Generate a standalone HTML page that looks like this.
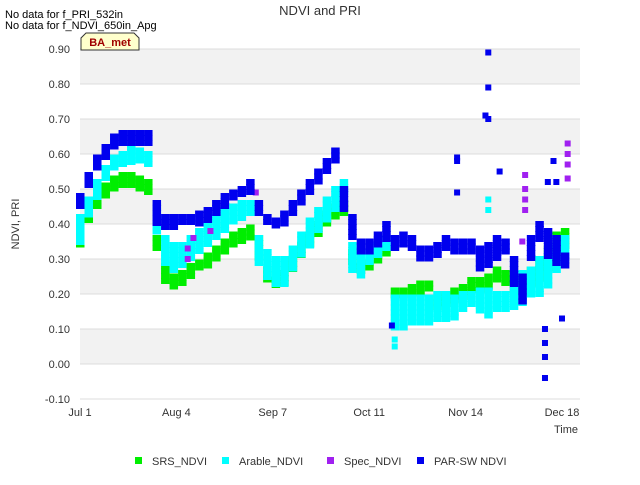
<!DOCTYPE html>
<html><head><meta charset="utf-8"><style>
body{margin:0;background:#fff;font-family:"Liberation Sans",sans-serif;}
svg text{font-family:"Liberation Sans",sans-serif;}
</style></head><body>
<svg id="chart" width="640" height="480" xmlns="http://www.w3.org/2000/svg">
<text x="320" y="15" text-anchor="middle" font-size="13" fill="#333">NDVI and PRI</text>
<text x="5" y="18" font-size="11" fill="#000">No data for f_PRI_532in</text>
<text x="5" y="29" font-size="11" fill="#000">No data for f_NDVI_650in_Apg</text>
<g id="plot"></g>
<g>
<path d="M81,50 L81,38 L86,33 L134,33 L139,38 L139,50 Z" fill="#ffffcc" stroke="#333" stroke-width="1"/>
<text x="110" y="46" text-anchor="middle" font-size="11" font-weight="bold" fill="#a00000">BA_met</text>
</g>
<text transform="translate(19,224) rotate(-90)" text-anchor="middle" font-size="11" fill="#333">NDVI, PRI</text>
<text x="578" y="433" text-anchor="end" font-size="11" fill="#333">Time</text>
<g id="legend"></g>
</svg>
<script>
const yTicks=[-0.1,0,0.1,0.2,0.3,0.4,0.5,0.6,0.7,0.8,0.9];
const xTickDays=[0,34,68,102,136,170];
const xTickLabels=["Jul 1","Aug 4","Sep 7","Oct 11","Nov 14","Dec 18"];
const days=[0,3,6,9,12,15,18,21,24,27,30,33,36,39,42,45,48,51,54,57,60,63,66,69,72,75,78,81,84,87,90,93,96,99,102,105,108,111,114,117,120,123,126,129,132,135,138,141,144,147,150,153,156,159,162,165,168,171];
const srsLo=[.33,.40,.44,.47,.50,.51,.51,.50,.49,.32,.23,.22,.23,.25,.27,.28,.30,.32,.34,.35,.36,.30,.23,.22,.23,.27,.31,.34,.37,.40,.42,.43,.28,.26,.27,.29,.31,.19,.19,.20,.20,.21,.16,.17,.18,.19,.21,.21,.22,.24,.23,.21,.20,.22,.24,.27,.30,.33];
const srsHi=[.37,.44,.48,.51,.53,.54,.54,.53,.52,.36,.28,.25,.26,.28,.29,.31,.33,.35,.37,.38,.39,.36,.27,.24,.26,.30,.34,.37,.40,.43,.45,.46,.32,.28,.29,.31,.33,.21,.21,.22,.23,.23,.19,.20,.21,.22,.24,.24,.25,.27,.26,.24,.25,.27,.30,.33,.37,.38];
const araLo=[.34,.42,.47,.52,.55,.57,.57,.57,.57,.38,.28,.26,.28,.30,.32,.34,.36,.38,.40,.41,.42,.28,.25,.23,.23,.27,.31,.34,.38,.41,.44,.48,.27,.25,.28,.30,.32,.10,.10,.11,.12,.12,.12,.12,.13,.15,.16,.15,.14,.15,.15,.16,.17,.19,.20,.22,.26,.30];
const araHi=[.42,.47,.52,.56,.59,.60,.62,.61,.60,.45,.36,.34,.34,.36,.38,.40,.42,.44,.45,.46,.46,.36,.32,.30,.30,.33,.37,.41,.44,.47,.50,.52,.34,.31,.32,.34,.36,.19,.19,.19,.19,.19,.20,.20,.19,.20,.20,.21,.21,.20,.20,.22,.26,.27,.30,.31,.34,.36];
const parLo=[.45,.50,.55,.59,.62,.63,.63,.62,.62,.40,.39,.39,.40,.40,.40,.41,.43,.45,.47,.48,.49,.42,.40,.39,.40,.42,.46,.49,.52,.55,.57,.44,.36,.32,.32,.33,.35,.32,.33,.32,.30,.29,.31,.33,.32,.32,.31,.27,.28,.30,.31,.22,.18,.30,.35,.30,.28,.27];
const parHi=[.48,.54,.59,.62,.65,.66,.66,.66,.66,.46,.42,.42,.42,.42,.43,.44,.46,.48,.49,.50,.52,.46,.42,.41,.43,.46,.49,.52,.55,.58,.61,.50,.42,.35,.35,.37,.40,.36,.37,.36,.33,.33,.34,.36,.35,.35,.35,.33,.34,.36,.35,.30,.25,.36,.40,.38,.36,.31];
const araOutDay=[144,144,111,111];
const araOutVal=[.47,.44,.07,.05];
const specDay=[38,38,40,46,62,63,157,157,157,157,156,172,172,172,172];
const specVal=[.30,.33,.36,.38,.49,.44,.54,.50,.47,.44,.35,.63,.60,.57,.53];
const parOutDay=[144,144,144,143,133,133,133,148,167,168,165,164,164,164,164,170,110];
const parOutVal=[.89,.79,.70,.71,.59,.58,.49,.55,.58,.52,.52,.10,.06,.02,-.04,.13,.11];

const X0=80,X1=580,Y0=49,Y1=399;
const xs=d=>X0+d*(482/170);
const ys=v=>Y0+(0.9-v)*350;
const NS="http://www.w3.org/2000/svg";
const plot=document.getElementById('plot');
function mk(tag,attrs,parent){const e=document.createElementNS(NS,tag);for(const k in attrs)e.setAttribute(k,attrs[k]);(parent||plot).appendChild(e);return e;}
// bands
for(let i=0;i<yTicks.length-1;i++){
  const lo=yTicks[i],hi=yTicks[i+1];
  const grey=(i%2===1);
  const r=mk('rect',{x:X0,y:ys(hi),width:X1-X0,height:ys(lo)-ys(hi),fill:grey?'#f2f2f2':'#ffffff'});
  
  
}
yTicks.forEach(t=>{
  const l=mk('line',{x1:X0,x2:X1,y1:ys(t),y2:ys(t),stroke:'#dcdcdc','stroke-width':1});
  
  
  const tx=mk('text',{x:X0-10,y:ys(t)+4,'text-anchor':'end','font-size':11,fill:'#333'});
  tx.textContent=t.toFixed(2);
  
  
});
xTickDays.forEach((d,i)=>{
  const tx=mk('text',{x:xs(d),y:416,'text-anchor':'middle','font-size':11,fill:'#333'});
  tx.textContent=xTickLabels[i];
  
  
});
const S=6;
function band(lo,hi,color,name){
  days.forEach((d,i)=>{
    const x=xs(d);
    for(let y=ys(hi[i]);y<=ys(lo[i])+0.5;y+=5){
      const r=mk('rect',{x:x-4,y:y-S/2,width:8.5,height:S,fill:color});
      
      
    }
  });
}
function pts(dd,vv,color,name){
  dd.forEach((d,i)=>{
    const r=mk('rect',{x:xs(d)-3,y:ys(vv[i])-3,width:S,height:S,fill:color});
    
    
  });
}
band(srsLo,srsHi,'#00ee00','srs-ndvi-point');
band(araLo,araHi,'#00ffff','arable-ndvi-point');
pts(araOutDay,araOutVal,'#00ffff','arable-ndvi-point');
pts(specDay,specVal,'#a020f0','spec-ndvi-point');
band(parLo,parHi,'#0000ee','par-sw-ndvi-point');
pts(parOutDay,parOutVal,'#0000ee','par-sw-ndvi-point');
// legend
const leg=document.getElementById('legend');
const legNames=["SRS_NDVI","Arable_NDVI","Spec_NDVI","PAR-SW NDVI"];
const legColors=['#00ee00','#00ffff','#a020f0','#0000ee'];
const legX=[135,222,327,417];
legNames.forEach((n,i)=>{
  const g=mk('g',{},leg);
  
  
  mk('rect',{x:legX[i],y:457,width:7,height:7,fill:legColors[i]},g);
  const t=mk('text',{x:legX[i]+17,y:465,'font-size':11,fill:'#333'},g);
  t.textContent=n;
});
</script>
</body></html>
